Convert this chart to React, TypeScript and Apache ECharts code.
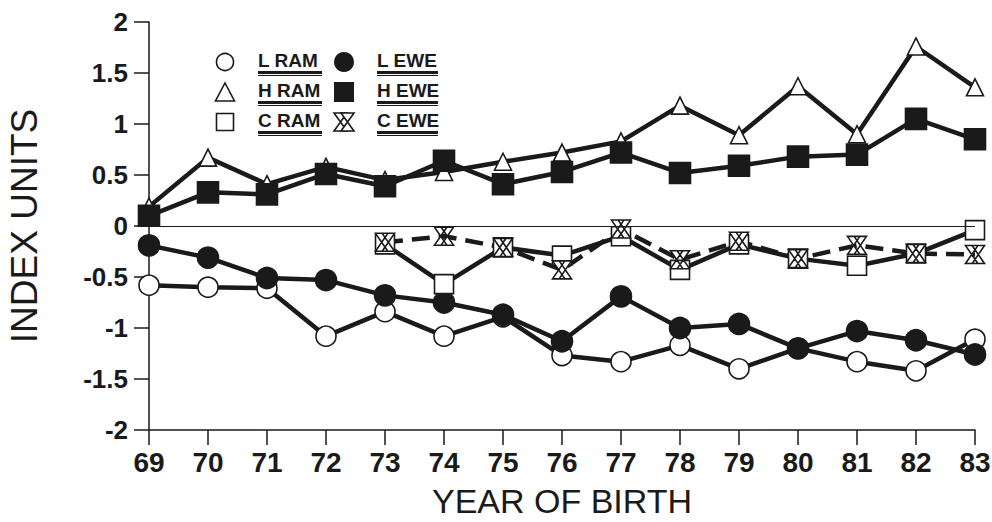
import React, { useEffect, useRef } from "react";
import * as echarts from "echarts";

const years = ["69", "70", "71", "72", "73", "74", "75", "76", "77", "78", "79", "80", "81", "82", "83"];
const lRam = [-0.58, -0.6, -0.61, -1.08, -0.84, -1.08, -0.89, -1.27, -1.33, -1.17, -1.4, -1.2, -1.33, -1.42, -1.11];
const lEwe = [-0.19, -0.31, -0.51, -0.53, -0.68, -0.75, -0.87, -1.13, -0.69, -1.0, -0.96, -1.2, -1.03, -1.12, -1.26];
const hRam = [0.19, 0.67, 0.41, 0.58, 0.45, 0.53, 0.63, 0.72, 0.83, 1.18, 0.89, 1.37, 0.9, 1.76, 1.36];
const hEwe = [0.1, 0.33, 0.31, 0.51, 0.39, 0.64, 0.41, 0.53, 0.72, 0.52, 0.59, 0.68, 0.7, 1.05, 0.85];
const cRam = [null, null, null, null, -0.18, -0.57, -0.21, -0.29, -0.1, -0.43, -0.18, -0.32, -0.39, -0.27, -0.04];
const cEwe = [null, null, null, null, -0.16, -0.1, -0.21, -0.43, -0.03, -0.33, -0.15, -0.32, -0.19, -0.27, -0.28];
const legendRows = [
  ["L RAM", "L EWE"],
  ["H RAM", "H EWE"],
  ["C RAM", "C EWE"],
];

const INK = "#1a1a1a";
const FONT = "Liberation Sans, Arial, sans-serif";
const HOURGLASS = "path://M0,0 L13,0 L0,20 L13,20 Z M7,0 L20,0 L7,20 L20,20 Z";

export default function App() {
  const ref = useRef<HTMLDivElement>(null);
  useEffect(() => {
    if (!ref.current) return;
    const chart = echarts.init(ref.current, null, { renderer: "svg" });
    const lineBase = (name: string, data: any[], symbol: string, size: any, fill: string, dashed = false) => ({
      name,
      type: "line",
      data,
      symbol,
      symbolSize: size,
      showSymbol: true,
      lineStyle: { color: INK, width: 4.5, type: dashed ? [18, 9] : "solid" },
      itemStyle: { color: fill, borderColor: INK, borderWidth: 1.6 },
      z: 3,
    });

    const graphic: any[] = [];
    const rowY = [62, 92, 122];
    const iconX = [225, 344];
    const textX = [258, 377];
    const barW = [64, 61];
    legendRows.forEach((row, r) => {
      row.forEach((label, c) => {
        graphic.push({
          type: "text",
          left: textX[c],
          top: rowY[r] - 11,
          style: { text: label, font: `bold 19px ${FONT}`, fill: INK },
        });
        graphic.push({
          type: "line",
          shape: { x1: textX[c], y1: rowY[r] + 10.5, x2: textX[c] + barW[c], y2: rowY[r] + 10.5 },
          style: { stroke: INK, lineWidth: 3 },
        });
        graphic.push({
          type: "line",
          shape: { x1: textX[c], y1: rowY[r] + 13.5, x2: textX[c] + barW[c], y2: rowY[r] + 13.5 },
          style: { stroke: INK, lineWidth: 1 },
        });
      });
    });
    const open = { fill: "#fff", stroke: INK, lineWidth: 1.6 };
    graphic.push({ type: "circle", shape: { cx: iconX[0], cy: rowY[0], r: 8.5 }, style: open });
    graphic.push({ type: "circle", shape: { cx: iconX[1], cy: rowY[0], r: 10 }, style: { fill: INK } });
    graphic.push({
      type: "polygon",
      shape: { points: [[iconX[0], rowY[1] - 9], [iconX[0] + 9.5, rowY[1] + 9], [iconX[0] - 9.5, rowY[1] + 9]] },
      style: open,
    });
    graphic.push({ type: "rect", shape: { x: iconX[1] - 10, y: rowY[1] - 10, width: 20, height: 20 }, style: { fill: INK } });
    graphic.push({ type: "rect", shape: { x: iconX[0] - 8.5, y: rowY[2] - 8.5, width: 17, height: 17 }, style: open });
    const hx = iconX[1] - 10, hy = rowY[2] - 9;
    graphic.push({
      type: "polygon",
      shape: { points: [[hx, hy], [hx + 13, hy], [hx, hy + 18], [hx + 13, hy + 18]] },
      style: open,
    });
    graphic.push({
      type: "polygon",
      shape: { points: [[hx + 7, hy], [hx + 20, hy], [hx + 7, hy + 18], [hx + 20, hy + 18]] },
      style: open,
    });

    chart.setOption({
      animation: false,
      backgroundColor: "#fff",
      grid: { left: 149, right: 17, top: 22, bottom: 92, containLabel: false, outerBoundsMode: "none" },
      xAxis: {
        type: "category",
        data: years,
        boundaryGap: false,
        name: "YEAR OF BIRTH",
        nameLocation: "middle",
        nameGap: 54,
        nameTextStyle: { fontFamily: FONT, fontSize: 34, color: INK },
        axisLine: { onZero: false, lineStyle: { color: INK, width: 1.5 } },
        axisTick: { show: true, length: 15, lineStyle: { color: INK, width: 1.5 } },
        axisLabel: { fontFamily: FONT, fontSize: 28, fontWeight: "bold", color: INK, margin: 18 },
        splitLine: { show: false },
      },
      yAxis: {
        type: "value",
        min: -2,
        max: 2,
        interval: 0.5,
        name: "INDEX UNITS",
        nameLocation: "middle",
        nameGap: 106,
        nameTextStyle: { fontFamily: FONT, fontSize: 37, color: INK },
        axisLine: { show: true, lineStyle: { color: INK, width: 1.5 } },
        axisTick: { show: true, length: 15, lineStyle: { color: INK, width: 1.5 } },
        axisLabel: { fontFamily: FONT, fontSize: 26, fontWeight: "bold", color: INK, margin: 21 },
        splitLine: { show: false },
      },
      graphic,
      series: [
        {
          ...lineBase("L RAM", lRam, "circle", 20, "#fff"),
          markLine: {
            silent: true,
            symbol: "none",
            label: { show: false },
            lineStyle: { color: INK, width: 1, type: "solid" },
            data: [{ yAxis: 0 }],
          },
        },
        lineBase("L EWE", lEwe, "circle", 21, INK),
        lineBase("H RAM", hRam, "triangle", 17, "#fff"),
        lineBase("H EWE", hEwe, "rect", 21, INK),
        lineBase("C RAM", cRam, "rect", 19, "#fff"),
        lineBase("C EWE", cEwe, HOURGLASS, [19, 18], "#fff", true),
      ],
    });
    return () => chart.dispose();
  }, []);
  return <div ref={ref} style={{ position: "absolute", left: 0, top: 0, width: 992, height: 522 }} />;
}
